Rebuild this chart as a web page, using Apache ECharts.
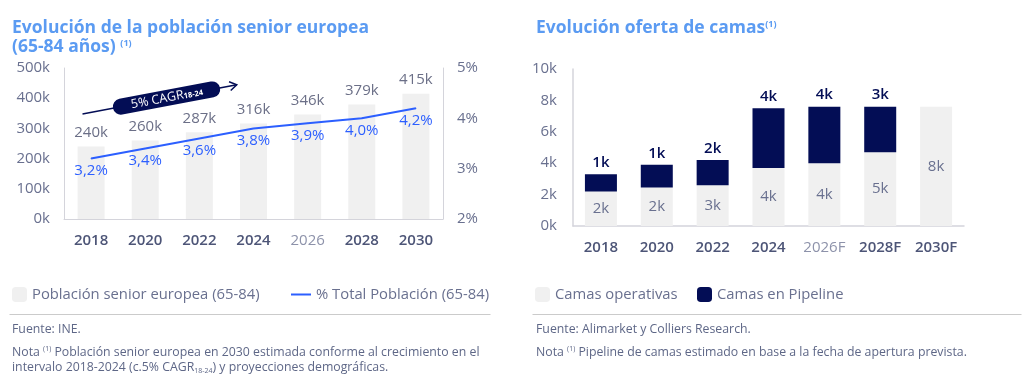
<!DOCTYPE html>
<html><head><meta charset="utf-8">
<script src="https://cdn.jsdelivr.net/npm/echarts@6/dist/echarts.min.js"></script>
<style>html,body{margin:0;padding:0;background:#fff}#c{width:1024px;height:385px}</style>
</head><body><div id="c"></div>
<script>
// ---- data ----
const years = ['2018','2020','2022','2024','2026','2028','2030'];
const poblacion = [240,260,287,316,346,379,415];       // miles
const pctTotal = [3.2,3.4,3.6,3.8,3.9,4.0,4.2];         // %
const yearsCamas = ['2018','2020','2022','2024','2026F','2028F','2030F'];
const camasOperativas = [2.2,2.45,2.6,3.7,4.0,4.7,7.6];  // miles
const camasPipeline = [1.1,1.45,1.6,3.8,3.6,2.9,null];   // miles
const lightYears = ['2026','2026F'];

const FONT = 'Open Sans';
const C = {
  title:'#5b9bf2', axis:'#69708f', year:'#4d5577', yearLight:'#8d92aa',
  barLbl:'#6b6f87', line:'#2c5fff', navy:'#030d55', gray:'#f0f0f0',
  axisLine:'#d4d4db', sep:'#cbcbcb', note:'#5e6787'
};

const yearFmt = v => lightYears.includes(v) ? '{l|'+v+'}' : '{b|'+v+'}';
const yearRich = {
  b:{fontFamily:FONT,fontSize:15,fontWeight:600,color:C.year},
  l:{fontFamily:FONT,fontSize:15,fontWeight:400,color:C.yearLight}
};
const titleRich = {
  t:{fontFamily:FONT,fontSize:17.5,fontWeight:700,color:C.title,lineHeight:19},
  s:{fontFamily:FONT,fontSize:9,fontWeight:700,color:C.title,padding:[0,0,9,0]}
};
const noteRich = {
  n:{fontFamily:FONT,fontSize:12.3,fontWeight:400,color:C.note,lineHeight:15},
  s:{fontFamily:FONT,fontSize:7,fontWeight:400,color:C.note,padding:[0,0,7,0]},
  u:{fontFamily:FONT,fontSize:7,fontWeight:400,color:C.note,padding:[7,0,0,0]}
};

const chart = echarts.init(document.getElementById('c'));
const option = {
  animation:false,
  backgroundColor:'#fff',
  textStyle:{fontFamily:FONT},
  title:[
    {left:7, top:14, text:'{t|Evolución de la población senior europea}\n{t|(65-84 años)} {s|(1)}',
     textStyle:{rich:titleRich}},
    {left:531, top:14, text:'{t|Evolución oferta de camas}{s|(1)}',
     textStyle:{rich:titleRich}},
    {left:7, top:318, text:'Fuente: INE.',
     textStyle:{fontFamily:FONT,fontSize:12.3,fontWeight:400,color:C.note}},
    {left:7, top:340, text:'{n|Nota }{s|(1)}{n| Población senior europea en 2030 estimada conforme al crecimiento en el}\n{n|intervalo 2018-2024 (c.5% CAGR}{u|18-24}{n|) y proyecciones demográficas.}',
     textStyle:{fontWeight:400, rich:noteRich}},
    {left:531, top:318, text:'Fuente: Alimarket y Colliers Research.',
     textStyle:{fontFamily:FONT,fontSize:12.3,fontWeight:400,color:C.note}},
    {left:531, top:340, text:'{n|Nota }{s|(1)}{n| Pipeline de camas estimado en base a la fecha de apertura prevista.}',
     textStyle:{fontWeight:400, rich:noteRich}}
  ],
  legend:[
    {left:7, top:282, itemWidth:15, itemHeight:15, data:['Población senior europea (65-84)'],
     textStyle:{fontFamily:FONT,fontSize:14.8,color:C.axis}},
    {left:286, top:282, itemWidth:20, itemHeight:15,
     data:[{name:'% Total Población (65-84)', icon:'path://M0,0H20V2H0Z'}],
     textStyle:{fontFamily:FONT,fontSize:14.8,color:C.axis}},
    {left:530, top:282, itemWidth:15, itemHeight:15, data:['Camas operativas'],
     textStyle:{fontFamily:FONT,fontSize:14.8,color:C.axis}},
    {left:692, top:282, itemWidth:15, itemHeight:15, data:['Camas en Pipeline'],
     textStyle:{fontFamily:FONT,fontSize:14.8,color:C.axis}}
  ],
  grid:[
    {left:64, right:581, top:68, bottom:166},
    {left:573, right:60, top:69, bottom:159}
  ],
  xAxis:[
    {type:'category', gridIndex:0, data:years,
     axisLine:{lineStyle:{color:C.axisLine}}, axisTick:{show:false},
     axisLabel:{interval:0, margin:14, formatter:yearFmt, rich:yearRich}},
    {type:'category', gridIndex:1, data:yearsCamas,
     axisLine:{lineStyle:{color:C.axisLine,width:1.5}}, axisTick:{show:false},
     axisLabel:{interval:0, margin:14, formatter:yearFmt, rich:yearRich}}
  ],
  yAxis:[
    {type:'value', gridIndex:0, min:0, max:500, interval:100,
     axisLine:{show:true,lineStyle:{color:C.axisLine}}, axisTick:{show:false}, splitLine:{show:false},
     axisLabel:{margin:14, formatter:'{value}k', fontFamily:FONT, fontSize:15, color:C.axis}},
    {type:'value', gridIndex:0, position:'right', min:2, max:5, interval:1,
     axisLine:{show:true,lineStyle:{color:C.axisLine}}, axisTick:{show:false}, splitLine:{show:false},
     axisLabel:{margin:14, formatter:'{value}%', fontFamily:FONT, fontSize:15, color:C.axis}},
    {type:'value', gridIndex:1, min:0, max:10, interval:2,
     axisLine:{show:true,lineStyle:{color:C.axisLine,width:1.5}}, axisTick:{show:false}, splitLine:{show:false},
     axisLabel:{margin:16, formatter:'{value}k', fontFamily:FONT, fontSize:15, color:C.axis}}
  ],
  series:[
    {name:'Población senior europea (65-84)', type:'bar', xAxisIndex:0, yAxisIndex:0,
     data:poblacion, barWidth:27, itemStyle:{color:C.gray},
     label:{show:true, position:'top', distance:6, formatter:p=>p.value+'k',
       fontFamily:FONT, fontSize:15, color:C.barLbl}},
    {name:'% Total Población (65-84)', type:'line', xAxisIndex:0, yAxisIndex:1,
     data:pctTotal, symbol:'circle', symbolSize:1, showSymbol:true,
     lineStyle:{color:C.line,width:2}, itemStyle:{color:C.line},
     label:{show:true, position:'bottom', distance:4,
       formatter:p=>p.value.toFixed(1).replace('.',',')+'%',
       fontFamily:FONT, fontSize:15, color:C.line}, z:5},
    {name:'Camas operativas', type:'bar', xAxisIndex:1, yAxisIndex:2, stack:'camas',
     data:camasOperativas, barWidth:32, itemStyle:{color:C.gray},
     label:{show:true, position:'inside', formatter:p=>Math.round(p.value)+'k',
       fontFamily:FONT, fontSize:15, color:C.axis}},
    {name:'Camas en Pipeline', type:'bar', xAxisIndex:1, yAxisIndex:2, stack:'camas',
     data:camasPipeline, barWidth:32, itemStyle:{color:C.navy},
     label:{show:true, position:'top', distance:4,
       formatter:p=>p.value==null?'':Math.round(p.value)+'k',
       fontFamily:FONT, fontSize:15, fontWeight:600, color:C.navy}}
  ],
  graphic:[
    {type:'line', left:7, top:312, shape:{x1:0,y1:0,x2:481,y2:0}, style:{stroke:C.sep,lineWidth:1}},
    {type:'line', left:530, top:312, shape:{x1:0,y1:0,x2:489,y2:0}, style:{stroke:C.sep,lineWidth:1}},
    {type:'group', x:167, y:98, rotation:10.7*Math.PI/180, z:100, children:[
      {type:'line', shape:{x1:-86,y1:0,x2:71,y2:0}, style:{stroke:C.navy,lineWidth:1.5}},
      {type:'polyline', shape:{points:[[64,-4.5],[71,0],[64,4.5]]}, style:{stroke:C.navy,lineWidth:1.5,fill:null}},
      {type:'rect', shape:{x:-55,y:-8,width:109,height:16,r:8}, style:{fill:C.navy}},
      {type:'text', x:0, y:0, style:{text:'{a|5% CAGR}{b|18-24}', align:'center', verticalAlign:'middle',
        fill:'#fff', fontFamily:FONT, fontSize:12.5,
        rich:{a:{fontFamily:FONT,fontSize:12.5,fill:'#fff'}, b:{fontFamily:FONT,fontSize:7.5,fontWeight:700,fill:'#fff',padding:[3,0,0,0]}}}}
    ]}
  ]
};
chart.setOption(option);
</script></body></html>
